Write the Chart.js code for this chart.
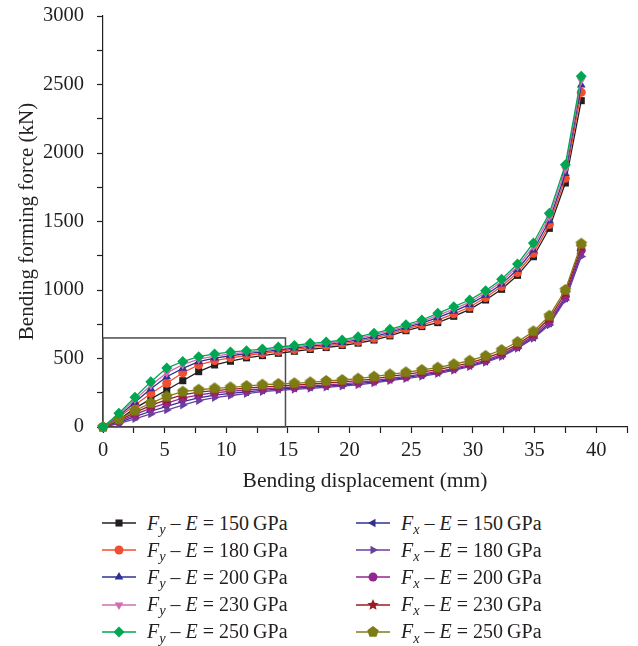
<!DOCTYPE html>
<html>
<head>
<meta charset="utf-8">
<script src="https://cdn.jsdelivr.net/npm/chart.js@4.4.1/dist/chart.umd.min.js"></script>
<style>
  body { margin: 0; background: #fff; }
  #wrap { position: relative; width: 638px; height: 646px; }
  #chart { position: absolute; left: 0; top: 0; }
  .item { position: absolute; height: 22px; display: flex; align-items: center;
          font-family: 'Liberation Serif', serif; font-size: 20px; color: #231f20; white-space: nowrap; }
  .item canvas { margin-right: 11px; }
  .item sub { font-size: 0.72em; position: relative; top: 0.3em; vertical-align: baseline; line-height: 0; }
</style>
</head>
<body>
<div id="wrap">
  <canvas id="chart" width="638" height="500"></canvas>
  <div id="legend"></div>
</div>
<script>
// Bending displacement (mm)
const displacement = [0, 1.29, 2.59, 3.88, 5.17, 6.47, 7.76, 9.05, 10.34, 11.64, 12.93, 14.22, 15.52, 16.81, 18.10,
  19.40, 20.69, 21.98, 23.27, 24.57, 25.86, 27.15, 28.45, 29.74, 31.03, 32.33, 33.62, 34.91, 36.20, 37.50, 38.79];

// Fy series (kN)
const fy150 = [0, 55, 136, 205, 270, 338, 404, 453, 480, 505, 521, 538, 553, 566, 580, 595, 612, 635, 665, 703, 733, 762, 808, 859, 927, 1005, 1107, 1243, 1450, 1781, 2382];
const fy180 = [0, 70, 160, 245, 319, 396, 453, 485, 505, 522, 537, 553, 566, 580, 592, 607, 625, 648, 678, 716, 746, 780, 826, 876, 945, 1025, 1128, 1268, 1478, 1815, 2443];
const fy200 = [0, 80, 180, 280, 367, 428, 477, 503, 520, 535, 548, 563, 576, 590, 602, 617, 636, 660, 690, 728, 758, 798, 844, 895, 962, 1043, 1150, 1292, 1505, 1850, 2496];
const fy230 = [0, 90, 200, 305, 395, 455, 495, 518, 533, 545, 558, 573, 585, 600, 611, 626, 647, 672, 701, 737, 770, 814, 861, 911, 980, 1062, 1170, 1318, 1532, 1882, 2530];
const fy250 = [0, 100, 217, 331, 430, 478, 513, 533, 547, 557, 569, 584, 595, 611, 620, 635, 659, 684, 713, 747, 781, 830, 878, 927, 995, 1078, 1190, 1343, 1560, 1915, 2560];

// Fx series (kN)
const fx150 = [0, 32, 75, 115, 150, 185, 212, 232, 245, 256, 268, 276, 283, 290, 298, 306, 316, 330, 345, 361, 378, 397, 420, 447, 479, 520, 580, 654, 757, 940, 1268];
const fx180 = [0, 25, 60, 95, 124, 160, 192, 215, 230, 244, 258, 268, 275, 282, 290, 298, 308, 322, 338, 353, 370, 390, 413, 440, 472, 513, 574, 647, 745, 927, 1245];
const fx200 = [0, 40, 90, 138, 175, 210, 235, 250, 260, 270, 279, 286, 292, 299, 307, 315, 325, 338, 354, 369, 386, 405, 428, 455, 488, 530, 590, 665, 773, 955, 1290];
const fx230 = [0, 48, 105, 158, 200, 234, 254, 266, 274, 284, 293, 299, 305, 312, 321, 329, 339, 352, 369, 384, 400, 418, 442, 468, 502, 545, 603, 680, 792, 978, 1315];
const fx250 = [0, 56, 119, 175, 223, 258, 272, 282, 289, 299, 309, 314, 319, 326, 336, 343, 353, 367, 384, 399, 416, 433, 458, 484, 519, 562, 620, 698, 812, 1000, 1338];

// zoomed region outline (mm, kN)
const boxDisp = [0, 14.8];
const boxForce = [0, 650];

const textColor = '#231f20';
const serif = "'Liberation Serif', serif";

// custom marker images for pentagon and star
function polyMarker(color, n, r, inner) {
  const c = document.createElement('canvas');
  c.width = 2 * r + 2; c.height = 2 * r + 2;
  const g = c.getContext('2d');
  g.fillStyle = color;
  g.beginPath();
  const steps = inner ? n * 2 : n;
  for (let i = 0; i < steps; i++) {
    const a = -Math.PI / 2 + i * 2 * Math.PI / steps;
    const rr = inner && i % 2 ? r * inner : r;
    const px = r + 1 + rr * Math.cos(a), py = r + 1 + rr * Math.sin(a);
    i ? g.lineTo(px, py) : g.moveTo(px, py);
  }
  g.closePath();
  g.fill();
  return c;
}

const series = [
  { comp: 'y', mod: 150, data: fy150, color: '#231f20', style: 'rect', rot: 0, r: 5, order: 5 },
  { comp: 'y', mod: 180, data: fy180, color: '#f04e30', style: 'circle', rot: 0, r: 4.5, order: 4 },
  { comp: 'y', mod: 200, data: fy200, color: '#2e3192', style: 'triangle', rot: 0, r: 5, order: 3 },
  { comp: 'y', mod: 230, data: fy230, color: '#d16cb4', style: 'triangle', rot: 180, r: 5, order: 2 },
  { comp: 'y', mod: 250, data: fy250, color: '#00a651', style: 'rectRot', rot: 0, r: 5.5, order: 1 },
  { comp: 'x', mod: 150, data: fx150, color: '#2e3192', style: 'triangle', rot: -90, r: 5, order: 5 },
  { comp: 'x', mod: 180, data: fx180, color: '#6b3fa0', style: 'triangle', rot: 90, r: 5, order: 4 },
  { comp: 'x', mod: 200, data: fx200, color: '#92278f', style: 'circle', rot: 0, r: 4.5, order: 3 },
  { comp: 'x', mod: 230, data: fx230, color: '#9e1b20', style: polyMarker('#9e1b20', 5, 6, 0.45), rot: 0, r: 5, order: 2 },
  { comp: 'x', mod: 250, data: fx250, color: '#7d7c14', style: polyMarker('#7d7c14', 5, 6), rot: 0, r: 5, order: 1 }
];

const zoomBox = {
  id: 'zoomBox',
  beforeDatasetsDraw(chart) {
    const { ctx, scales: { x, y } } = chart;
    const l = x.getPixelForValue(boxDisp[0]), r = x.getPixelForValue(boxDisp[1]);
    const t = y.getPixelForValue(boxForce[1]), b = y.getPixelForValue(boxForce[0]);
    ctx.save();
    ctx.strokeStyle = '#4d4d4d';
    ctx.lineWidth = 1.5;
    ctx.strokeRect(l, t, r - l, b - t);
    ctx.restore();
  }
};

new Chart(document.getElementById('chart'), {
  type: 'line',
  data: {
    datasets: series.map(s => ({
      label: 'F' + s.comp + ' – E = ' + s.mod + ' GPa',
      data: displacement.map((d, i) => ({ x: d, y: s.data[i] })),
      borderColor: s.color,
      backgroundColor: s.color,
      borderWidth: 1.3,
      pointStyle: s.style,
      pointRotation: s.rot,
      pointRadius: s.r,
      pointBorderWidth: 0,
      tension: 0,
      clip: false,
      order: s.order
    }))
  },
  options: {
    responsive: false,
    devicePixelRatio: 1,
    animation: false,
    layout: { padding: { left: 0, right: 11, top: 16, bottom: 0 } },
    plugins: { legend: { display: false }, tooltip: { enabled: false } },
    scales: {
      x: {
        type: 'linear', min: 0, max: 42.5,
        border: { color: textColor, width: 1.2 },
        grid: { drawOnChartArea: false, tickLength: 6, tickColor: textColor, tickWidth: 1.2 },
        ticks: {
          stepSize: 2.5, autoSkip: false, maxRotation: 0, padding: 5, color: textColor,
          font: { family: serif, size: 20.5 },
          callback: v => (v % 5 === 0 ? v : '')
        },
        title: {
          display: true, text: 'Bending displacement (mm)', color: textColor,
          font: { family: serif, size: 21.5 }, padding: { top: 0, bottom: 6 }
        },
        afterFit: s => { s.height = 73; s.paddingRight = 0; }
      },
      y: {
        min: 0, max: 3000,
        border: { color: textColor, width: 1.2 },
        grid: { drawOnChartArea: false, tickLength: 6, tickColor: textColor, tickWidth: 1.2 },
        ticks: {
          stepSize: 250, autoSkip: false, padding: 13, color: textColor,
          font: { family: serif, size: 20.5 },
          callback: v => (v % 500 === 0 ? v : '')
        },
        title: {
          display: true, text: 'Bending forming force (kN)', color: textColor,
          font: { family: serif, size: 21 }, padding: { top: 15, bottom: 0 }
        },
        afterFit: s => { s.width = 103; s.paddingTop = 0; s.paddingBottom = 0; }
      }
    }
  },
  plugins: [zoomBox]
});

// HTML legend with italic symbols and subscripts
const legend = document.getElementById('legend');
series.forEach((s, i) => {
  const col = i < 5 ? 0 : 1;
  const row = i % 5;
  const item = document.createElement('div');
  item.className = 'item';
  item.style.left = (col ? 356 : 102) + 'px';
  item.style.top = (512 + row * 27.2) + 'px';
  const c = document.createElement('canvas');
  c.width = 34; c.height = 22;
  const g = c.getContext('2d');
  g.strokeStyle = s.color;
  g.lineWidth = 1.3;
  g.beginPath(); g.moveTo(0, 11); g.lineTo(34, 11); g.stroke();
  g.fillStyle = s.color;
  g.strokeStyle = s.color;
  Chart.helpers.drawPoint(g, { pointStyle: s.style, rotation: s.rot, radius: s.r, borderWidth: 0 }, 17, 11);
  item.appendChild(c);
  const t = document.createElement('span');
  t.innerHTML = '<i>F</i><sub><i>' + s.comp + '</i></sub> – <i>E</i> = ' + s.mod + '&#8201;GPa';
  item.appendChild(t);
  legend.appendChild(item);
});
</script>
</body>
</html>
